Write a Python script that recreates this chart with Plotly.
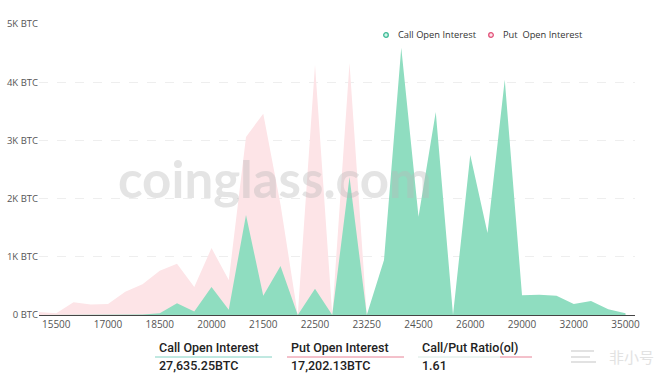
import plotly.graph_objects as go

strikes = ["15000", "15500", "16000", "16500", "17000", "17500", "18000", "18500",
           "19000", "19500", "20000", "20500", "21000", "21500", "22000", "22250",
           "22500", "22750", "23000", "23250", "23500", "24000", "24500", "25000",
           "25500", "26000", "27000", "28000", "29000", "30000", "31000", "32000",
           "33000", "34000", "35000"]

call_oi = [0, 0, 0, 0, 0, 0, 10, 30, 200, 60, 480, 90, 1720, 330, 840, 0,
           450, 0, 2370, 0, 945, 4590, 1690, 3490, 0, 2750, 1410, 4040, 340,
           350, 330, 190, 240, 100, 30]

put_oi = [50, 30, 220, 180, 190, 400, 530, 760, 880, 480, 1150, 600, 3060,
          3460, 1900, 0, 4300, 0, 4330, 0, 600, 300, 200, 150, 0, 100, 80, 120,
          60, 50, 40, 30, 30, 20, 10]

y_tick_vals = [0, 1000, 2000, 3000, 4000, 5000]
y_tick_text = ["0 BTC", "1K BTC", "2K BTC", "3K BTC", "4K BTC", "5K BTC"]
x_tick_labels = ["15500", "17000", "18500", "20000", "21500", "22500", "23250",
                 "24500", "26000", "29000", "32000", "35000"]

legend_names = ["Call Open Interest", "Put  Open Interest"]
stat_labels = ["Call Open Interest", "Put Open Interest", "Call/Put Ratio(ol)"]
stat_values = ["27,635.25BTC", "17,202.13BTC", "1.61"]

GREEN = "rgb(143,221,192)"
PINK = "rgb(253,228,231)"

xi = list(range(len(strikes)))
x_tick_idx = [strikes.index(s) for s in x_tick_labels]

fig = go.Figure()
fig.add_trace(go.Scatter(x=xi, y=put_oi, mode="lines", fill="tozeroy",
                         fillcolor=PINK, line=dict(width=0, color=PINK),
                         name=legend_names[1], showlegend=False, hoverinfo="skip"))
fig.add_trace(go.Scatter(x=xi, y=call_oi, mode="lines", fill="tozeroy",
                         fillcolor=GREEN, line=dict(width=0, color=GREEN),
                         name=legend_names[0], showlegend=False, hoverinfo="skip"))

L, R, T, B = 39, 635, 24, 315
W, H = 665, 379


def px(x):
    return (x - L) / (R - L)


def py(y):
    return (B - y) / (B - T)


fig.update_layout(
    width=W, height=H,
    margin=dict(l=L, r=W - R, t=T, b=H - B, autoexpand=False),
    paper_bgcolor="white", plot_bgcolor="white",
    font=dict(family="Open Sans", size=10, color="#555"),
    showlegend=False,
    xaxis=dict(range=[0, 34.55], tickmode="array", tickvals=x_tick_idx,
               ticktext=x_tick_labels, showgrid=False, zeroline=False,
               showline=True, linecolor="#444", linewidth=1, ticks="",
               automargin=False,
               tickfont=dict(size=10, color="#555"), fixedrange=True),
    yaxis=dict(range=[0, 5000], tickmode="array", tickvals=y_tick_vals,
               ticktext=y_tick_text, showgrid=True, gridcolor="#eeeeee",
               griddash="dash", gridwidth=1, zeroline=False, showline=False,
               automargin=False, ticklabelstandoff=0,
               ticks="", tickfont=dict(size=9.5, color="#555"), fixedrange=True),
)

annotations = [
    dict(text="<b>coinglass.com</b>", x=px(275), y=py(178), xref="paper", yref="paper",
         showarrow=False, font=dict(family="Lato", size=51, color="rgba(185,185,185,0.38)"),
         xanchor="center", yanchor="middle"),
]
shapes = []

# manual legend
leg_x = [386, 491]
leg_line = ["rgb(60,185,150)", "rgb(225,80,120)"]
leg_fill = ["rgb(210,245,232)", "rgb(255,225,232)"]
for i, name in enumerate(legend_names):
    cx, cy = leg_x[i], 35
    shapes.append(dict(type="circle", xref="paper", yref="paper",
                       x0=px(cx - 2.3), x1=px(cx + 2.3), y0=py(cy + 2.3), y1=py(cy - 2.3),
                       line=dict(color=leg_line[i], width=1.3), fillcolor=leg_fill[i]))
    annotations.append(dict(text=name, x=px(cx + 10), y=py(cy), xref="paper", yref="paper",
                            showarrow=False, xanchor="left", yanchor="middle",
                            font=dict(family="Open Sans", size=9.3, color="#333")))

stat_x = [157, 289, 420]
underline_colors = [["rgb(130,210,195)"], ["rgb(232,130,150)"],
                    ["rgb(215,232,226)", "rgb(232,130,150)"]]
for i, (lab, val) in enumerate(zip(stat_labels, stat_values)):
    x0 = stat_x[i]
    annotations.append(dict(text=lab, x=px(x0), y=py(347), xref="paper", yref="paper",
                            showarrow=False, xanchor="left", yanchor="middle",
                            font=dict(family="Roboto", size=12.5, color="#222", weight=500)))
    annotations.append(dict(text=val, x=px(x0), y=py(365), xref="paper", yref="paper",
                            showarrow=False, xanchor="left", yanchor="middle",
                            font=dict(family="Roboto", size=12.5, color="#222", weight=500)))
    cols = underline_colors[i]
    if len(cols) == 1:
        shapes.append(dict(type="line", xref="paper", yref="paper",
                           x0=px(x0 - 2), x1=px(x0 + 115), y0=py(357), y1=py(357),
                           line=dict(color=cols[0], width=1)))
    else:
        shapes.append(dict(type="line", xref="paper", yref="paper",
                           x0=px(x0 - 2), x1=px(x0 + 80), y0=py(357), y1=py(357),
                           line=dict(color=cols[0], width=1)))
        shapes.append(dict(type="line", xref="paper", yref="paper",
                           x0=px(x0 + 80), x1=px(x0 + 112), y0=py(357), y1=py(357),
                           line=dict(color=cols[1], width=1)))

# faint logo bottom-right
annotations.append(dict(text="非小号", x=px(656), y=py(356), xref="paper", yref="paper",
                        showarrow=False, xanchor="right", yanchor="middle",
                        font=dict(family="Noto Sans CJK SC", size=15, color="#e2e2e2")))
for yy, x1 in [(351, 594), (357, 590), (362, 596)]:
    shapes.append(dict(type="line", xref="paper", yref="paper",
                       x0=px(571), x1=px(x1), y0=py(yy), y1=py(yy),
                       line=dict(color="#e2e2e2", width=2)))

fig.update_layout(annotations=annotations, shapes=shapes)
fig.write_html("out.html", config={"displayModeBar": False},
               post_script="document.body.style.margin='0';")
